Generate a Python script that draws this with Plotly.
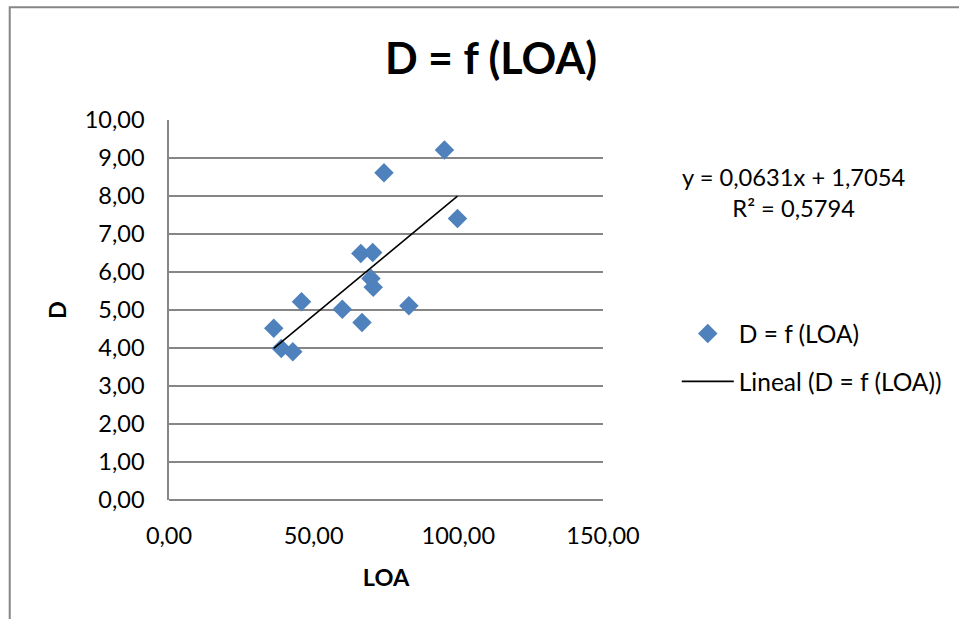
import plotly.graph_objects as go

# LOA (x) and D (y) measurements
loa = [36.2, 38.8, 42.8, 45.8, 59.9, 66.3, 66.7, 70.4, 69.8, 70.6, 74.3, 82.9, 95.2, 99.7]
d = [4.52, 3.99, 3.90, 5.22, 5.02, 6.49, 4.67, 6.51, 5.83, 5.60, 8.61, 5.11, 9.21, 7.41]

# linear trend coefficients and fit quality
slope = 0.0631
intercept = 1.7054
r2 = 0.5794

x_ticks = [0, 50, 100, 150]
x_tick_text = ["0,00", "50,00", "100,00", "150,00"]
y_ticks = list(range(0, 11))
y_tick_text = [f"{v},00" for v in y_ticks]

FONT = "Lato, 'Open Sans', sans-serif"
GRID = "#868686"

trend_x = [min(loa), max(loa)]
trend_y = [slope * v + intercept for v in trend_x]

fig = go.Figure()
fig.add_trace(go.Scatter(
    x=loa, y=d, mode="markers", name="D = f (LOA)",
    marker=dict(symbol="diamond", size=15, color="#4F81BD", line=dict(width=0)),
    legendgroup="a",
))
fig.add_trace(go.Scatter(
    x=trend_x, y=trend_y, mode="lines", name="Lineal (D = f (LOA))",
    line=dict(color="black", width=1.6),
    legendgroup="b",
))

eq_text = (f"y = {slope:.4f}x + {intercept:.4f}".replace(".", ",")
           + "<br>" + f"R² = {r2:.4f}".replace(".", ","))

fig.update_layout(
    width=959, height=619,
    margin=dict(l=169, r=354, t=120, b=119),
    paper_bgcolor="white", plot_bgcolor="white",
    font=dict(family=FONT, size=23.5, color="black"),
    title=dict(text="<b>D = f (LOA)</b>", x=0.512, xanchor="center",
               y=0.905, yanchor="middle", font=dict(size=43, family=FONT)),
    xaxis=dict(range=[0, 150], tickvals=x_ticks, ticktext=x_tick_text,
               showgrid=False, zeroline=False, showline=False,
               ticks="", ticklabelstandoff=19,
               title=dict(text="<b>LOA</b>", font=dict(size=23.5), standoff=22)),
    yaxis=dict(range=[0, 10], tickvals=y_ticks, ticktext=y_tick_text,
               showgrid=True, gridcolor=GRID, gridwidth=1.5,
               zeroline=True, zerolinecolor=GRID, zerolinewidth=1.5,
               showline=True, linecolor=GRID, linewidth=1.5,
               ticks="", ticklabelstandoff=18,
               title=dict(text="<b>D</b>", font=dict(size=23.5), standoff=11)),
    legend=dict(x=1.17, y=0.497, xanchor="left", yanchor="top",
                itemwidth=52, traceorder="grouped", tracegroupgap=13,
                font=dict(size=24.5), bgcolor="rgba(0,0,0,0)"),
    annotations=[dict(text=eq_text, xref="paper", yref="paper",
                      x=1.44, y=0.808, xanchor="center", yanchor="middle",
                      showarrow=False, align="center", font=dict(size=23.7))],
    shapes=[dict(type="rect", xref="paper", yref="paper",
                 x0=-0.367, y0=-0.6, x1=1.9, y1=1.297,
                 line=dict(color=GRID, width=2), fillcolor="rgba(0,0,0,0)",
                 layer="below")],
)

fig.write_html("out.html")
